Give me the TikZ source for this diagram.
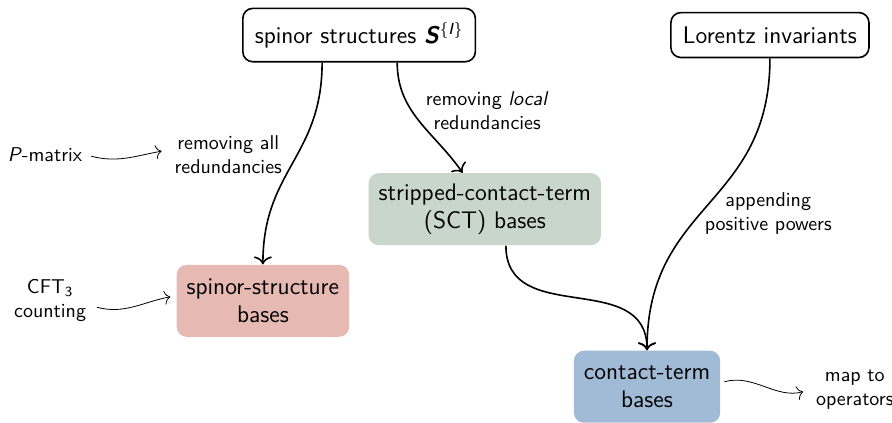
\documentclass[tikz,border=0pt]{standalone}
\usepackage{fontspec}
\usetikzlibrary{arrows.meta}
\definecolor{ssred}{RGB}{230,185,178}
\definecolor{sctgreen}{RGB}{200,214,203}
\definecolor{ctblue}{RGB}{161,187,214}
\begin{document}
\begin{tikzpicture}[font=\sffamily,
    source/.style ={draw, thick, rounded corners=5pt, inner xsep=6pt, inner ysep=7pt, font=\sffamily\large},
    basis/.style ={rounded corners=5pt, align=center, inner xsep=5pt, minimum height=36pt, font=\sffamily\large},
    remark/.style ={align=center},
    flow/.style ={thick, -{To[length=4pt, width=9pt]}},
    hint/.style ={-{To[length=3pt, width=7pt]}, shorten <=2pt, shorten >=3pt}]
   \useasboundingbox (0,0) rectangle (15.675,7.416);
   % sources
   \node[source] (S)  at (6.31,6.80)  {spinor structures \textbf{\textit{S}}\textsuperscript{\{\textit{I}\}}};
   \node[source] (L)  at (13.53,6.80)  {Lorentz invariants};
   % bases
   \node[basis, fill=sctgreen] (SCT)  at (8.52,3.74)  {stripped-contact-term\\(SCT) bases};
   \node[basis, fill=ssred] (SSB)  at (4.62,2.13)  {spinor-structure\\bases};
   \node[basis, fill=ctblue] (CTB)  at (11.37,0.62)  {contact-term\\bases};
   % remarks
   \node[remark] (all)  at (4.01,4.69)  {removing all\\redundancies};
   \node[remark] (local)  at (8.56,5.48)  {removing \textit{local}\\redundancies};
   \node[remark] (pow)  at (13.50,3.66)  {appending\\positive powers};
   \node[remark] (Pm)  at (0.79,4.69)  {\textit{P}-matrix};
   \node[remark] (cft)  at (0.88,2.14)  {CFT\textsubscript{3}\\counting};
   \node[remark] (ops)  at (15.02,0.56)  {map to\\operators};
   % main arrows
   \draw[flow] ([xshift=-0.65cm]S.south) to [out=-90, in=90, looseness=1.15] (SSB.north);
   \draw[flow] ([xshift=0.67cm]S.south) to [out=-90, in=125] ([xshift=-0.39cm]SCT.north);
   \draw[flow] ([xshift=0.37cm]SCT.south) to [out=-90, in=90, looseness=1.2] (CTB.north);
   \draw[flow] (L.south) to [out=-90, in=90, looseness=1.2] (CTB.north);
   % hints
   \draw[hint] ([xshift=-1pt]Pm.east) to [out=-15, in=190] ([yshift=2.5pt]all.west);
   \draw[hint] ([yshift=-3pt]cft.east) to [out=-15, in=190] ([yshift=2.5pt]SSB.west);
   \draw[hint] ([yshift=2pt]CTB.east) to [out=15, in=195] (ops.west);
 \end{tikzpicture}
\end{document}
